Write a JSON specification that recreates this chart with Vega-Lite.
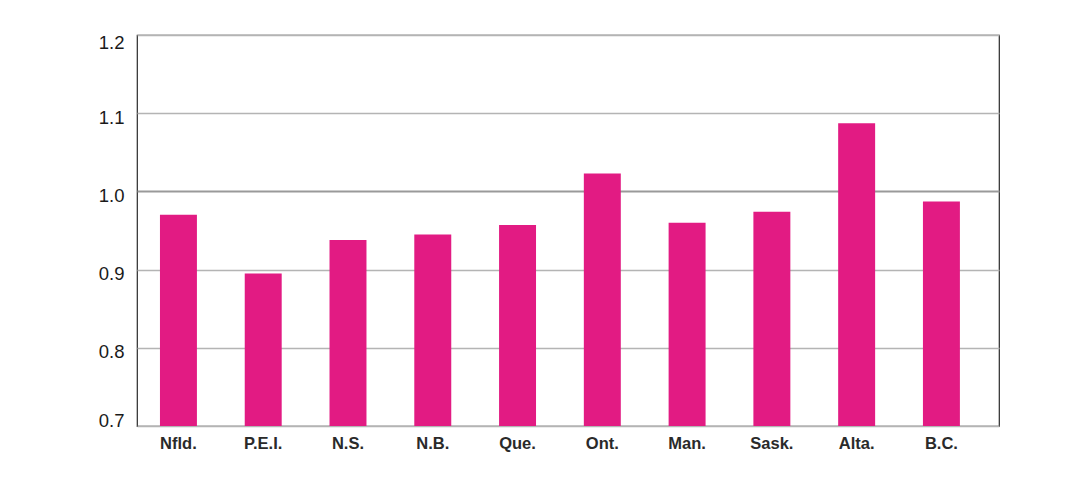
{
  "$schema": "https://vega.github.io/schema/vega-lite/v6.json",
  "width": 862,
  "height": 391,
  "autosize": {"type": "none"},
  "padding": {"left": 137, "top": 35, "right": 72, "bottom": 61},
  "background": "white",
  "config": {
    "view": {"stroke": "#2a2a2a", "strokeWidth": 1.2}
  },
  "data": {
    "values": [
      {"province": "Nfld.", "value": 0.970},
      {"province": "P.E.I.", "value": 0.895},
      {"province": "N.S.", "value": 0.938},
      {"province": "N.B.", "value": 0.945},
      {"province": "Que.", "value": 0.957},
      {"province": "Ont.", "value": 1.023},
      {"province": "Man.", "value": 0.960},
      {"province": "Sask.", "value": 0.974},
      {"province": "Alta.", "value": 1.087},
      {"province": "B.C.", "value": 0.987}
    ]
  },
  "mark": {"type": "bar", "color": "#E21B83", "clip": true},
  "encoding": {
    "x": {
      "field": "province",
      "type": "nominal",
      "sort": null,
      "scale": {"paddingInner": 0.564, "paddingOuter": 0.366, "align": 0.37},
      "axis": {
        "title": null,
        "ticks": false,
        "domain": false,
        "labelAngle": 0,
        "labelFont": "Liberation Sans",
        "labelFontWeight": "bold",
        "labelFontSize": 16.5,
        "labelColor": "#2a2a2a",
        "labelPadding": 9
      }
    },
    "y": {
      "field": "value",
      "type": "quantitative",
      "scale": {"domain": [0.7, 1.2], "nice": false, "zero": false},
      "axis": {
        "title": null,
        "values": [0.7, 0.8, 0.9, 1.0, 1.1, 1.2],
        "format": ".1f",
        "ticks": false,
        "domain": false,
        "labelFont": "Liberation Sans",
        "labelFontSize": 18.5,
        "labelColor": "#1a1a1a",
        "labelPadding": 13,
        "labelFlush": false,
        "labelBaseline": "middle",
        "labelOffset": {"condition": [{"test": "datum.value < 0.75", "value": -6}, {"test": "datum.value > 1.15", "value": 7}], "value": 4},
        "grid": true,
        "gridColor": {"condition": {"test": "datum.value === 1", "value": "#9a9a9a"}, "value": "#b4b4b4"},
        "gridWidth": {"condition": {"test": "datum.value === 1", "value": 2}, "value": 1.3}
      }
    }
  }
}
